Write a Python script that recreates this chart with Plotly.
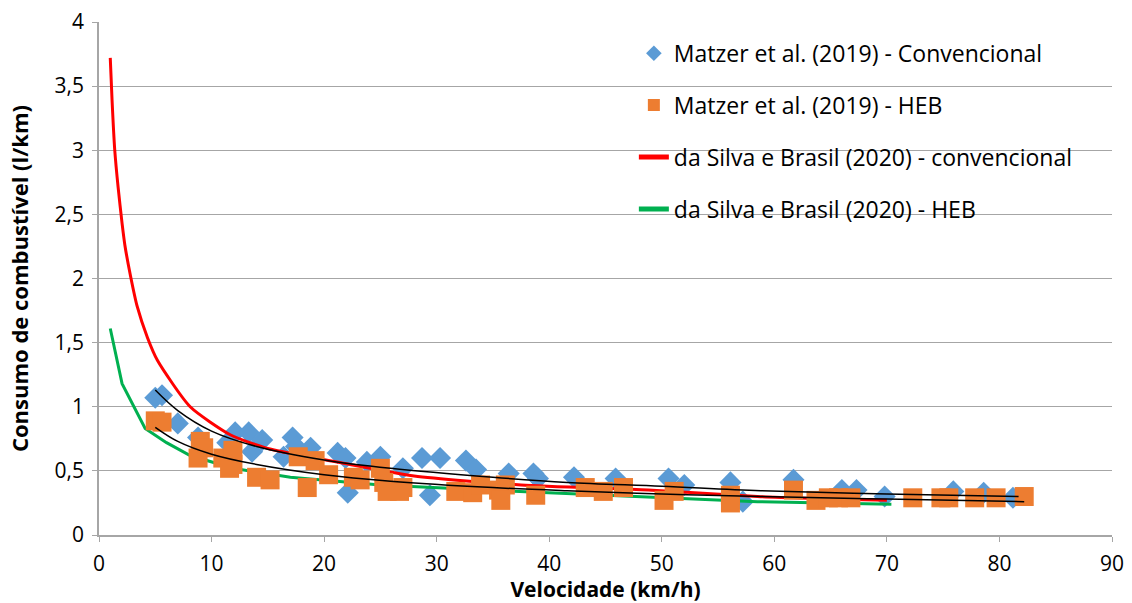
import plotly.graph_objects as go

# Matzer et al. (2019) - Convencional (diamonds)
conv_x = [5.0, 5.6, 7.0, 8.8, 11.4, 12.1, 13.3, 14.5, 13.6, 16.4, 17.2, 17.5, 18.8, 21.2, 21.9,
          22.1, 23.8, 25.0, 27.0, 28.7, 29.4, 30.3, 32.6, 33.5, 36.4, 38.6, 39.0, 42.2, 45.9,
          50.6, 52.0, 56.1, 57.2, 61.7, 66.0, 67.3, 69.8, 75.9, 78.6, 81.2]
conv_y = [1.07, 1.09, 0.87, 0.76, 0.72, 0.80, 0.80, 0.74, 0.65, 0.61, 0.76, 0.69, 0.68, 0.64, 0.60,
          0.33, 0.57, 0.61, 0.52, 0.60, 0.31, 0.60, 0.58, 0.51, 0.48, 0.48, 0.44, 0.45, 0.44,
          0.44, 0.39, 0.41, 0.26, 0.43, 0.35, 0.35, 0.30, 0.34, 0.33, 0.29]

# Matzer et al. (2019) - HEB (squares)
heb_x = [5.0, 5.6, 9.0, 9.3, 8.8, 11.0, 11.9, 11.9, 11.6, 14.0, 15.2, 17.7, 19.2, 18.5, 20.4,
         22.6, 23.2, 25.0, 25.3, 25.6, 27.0, 26.7, 31.7, 33.2, 33.9, 35.5, 36.1, 35.7, 38.8,
         43.2, 44.8, 46.6, 50.2, 51.1, 56.1, 56.1, 61.7, 63.7, 64.8, 65.7, 66.8, 72.3, 74.8,
         75.5, 77.8, 79.7, 82.2]
heb_y = [0.89, 0.88, 0.73, 0.68, 0.60, 0.60, 0.66, 0.55, 0.52, 0.45, 0.43, 0.61, 0.58, 0.37, 0.47,
         0.45, 0.43, 0.52, 0.41, 0.34, 0.37, 0.34, 0.34, 0.33, 0.39, 0.35, 0.39, 0.27, 0.31,
         0.37, 0.34, 0.37, 0.27, 0.34, 0.31, 0.25, 0.35, 0.27, 0.29, 0.29, 0.29, 0.29, 0.29,
         0.29, 0.29, 0.29, 0.30]

# da Silva e Brasil (2020) - convencional
red_x = [1.0, 1.16, 1.4, 1.7, 2.05, 2.3, 2.8, 3.4, 4.3, 5.2, 8.1, 11.7, 15.2, 21.7, 28.0, 37.5, 48.8, 58.5, 70.0]
red_y = [3.72, 3.39, 3.0, 2.71, 2.43, 2.26, 2.02, 1.78, 1.54, 1.36, 1.0, 0.78, 0.67, 0.56, 0.46, 0.39, 0.35, 0.30, 0.27]

# da Silva e Brasil (2020) - HEB
green_x = [1.0, 2.05, 4.1, 6.0, 8.1, 11.9, 17.0, 25.0, 32.0, 40.0, 58.5, 70.4]
green_y = [1.61, 1.18, 0.83, 0.72, 0.62, 0.52, 0.45, 0.39, 0.36, 0.33, 0.26, 0.24]

# Trendlines (black)
tr1_x = [5.0, 7.0, 10.0, 14.0, 20.0, 25.9, 35.0, 41.6, 50.0, 58.8, 70.0, 81.7]
tr1_y = [1.13, 0.97, 0.81, 0.69, 0.585, 0.52, 0.45, 0.41, 0.38, 0.345, 0.32, 0.30]
tr2_x = [5.0, 7.0, 10.0, 14.0, 20.0, 25.9, 35.0, 41.6, 50.0, 58.8, 70.0, 82.2]
tr2_y = [0.84, 0.73, 0.63, 0.55, 0.47, 0.42, 0.37, 0.345, 0.32, 0.30, 0.28, 0.26]

FONT = "Open Sans"

fig = go.Figure()
fig.add_trace(go.Scatter(x=conv_x, y=conv_y, mode="markers", name="Matzer et al. (2019) - Convencional",
                         marker=dict(symbol="diamond", size=17, color="#5B9BD5", line=dict(width=0)),
                         legendgroup="a", legendrank=1))
fig.add_trace(go.Scatter(x=red_x, y=red_y, mode="lines", name="da Silva e Brasil (2020) - convencional",
                         line=dict(color="#FF0000", width=3, shape="spline", smoothing=0.6),
                         legendgroup="c", legendrank=3))
fig.add_trace(go.Scatter(x=green_x, y=green_y, mode="lines", name="da Silva e Brasil (2020) - HEB",
                         line=dict(color="#00B050", width=3), legendgroup="d", legendrank=4))
fig.add_trace(go.Scatter(x=heb_x, y=heb_y, mode="markers", name="Matzer et al. (2019) - HEB",
                         marker=dict(symbol="square", size=19, color="#ED7D31", line=dict(width=0)),
                         legendgroup="b", legendrank=2))
fig.add_trace(go.Scatter(x=tr1_x, y=tr1_y, mode="lines", showlegend=False,
                         line=dict(color="black", width=1.5, shape="spline")))
fig.add_trace(go.Scatter(x=tr2_x, y=tr2_y, mode="lines", showlegend=False,
                         line=dict(color="black", width=1.5, shape="spline")))

fig.update_layout(
    width=1132, height=603,
    margin=dict(l=99, r=20, t=22, b=68),
    paper_bgcolor="white", plot_bgcolor="white",
    separators=",.",
    font=dict(family=FONT, size=20, color="black"),
    showlegend=True,
    legend=dict(x=0.528, y=0.981, xanchor="left", yanchor="top", bgcolor="rgba(0,0,0,0)",
                font=dict(family=FONT, size=23, color="black"), traceorder="grouped",
                tracegroupgap=19, itemsizing="constant"),
    xaxis=dict(range=[0, 90], dtick=10, tick0=0, showgrid=False, zeroline=False,
               showline=True, linecolor="#A6A6A6", linewidth=1.5, automargin=False,
               ticks="outside", ticklen=5, tickcolor="#A6A6A6", ticklabelstandoff=4,
               tickfont=dict(family=FONT, size=21),
               title=dict(text="<b>Velocidade (km/h)</b>", font=dict(family=FONT, size=21), standoff=3)),
    yaxis=dict(range=[0, 4], dtick=0.5, tick0=0, showgrid=True, gridcolor="#A6A6A6", gridwidth=1.2,
               zeroline=False, showline=True, linecolor="#A6A6A6", linewidth=1.5, automargin=False,
               ticks="outside", ticklen=5, tickcolor="#A6A6A6", ticklabelstandoff=4,
               tickfont=dict(family=FONT, size=21),
               title=dict(text="<b>Consumo de combustível (l/km)</b>", font=dict(family=FONT, size=22), standoff=20)),
)

fig.write_html("out.html")
